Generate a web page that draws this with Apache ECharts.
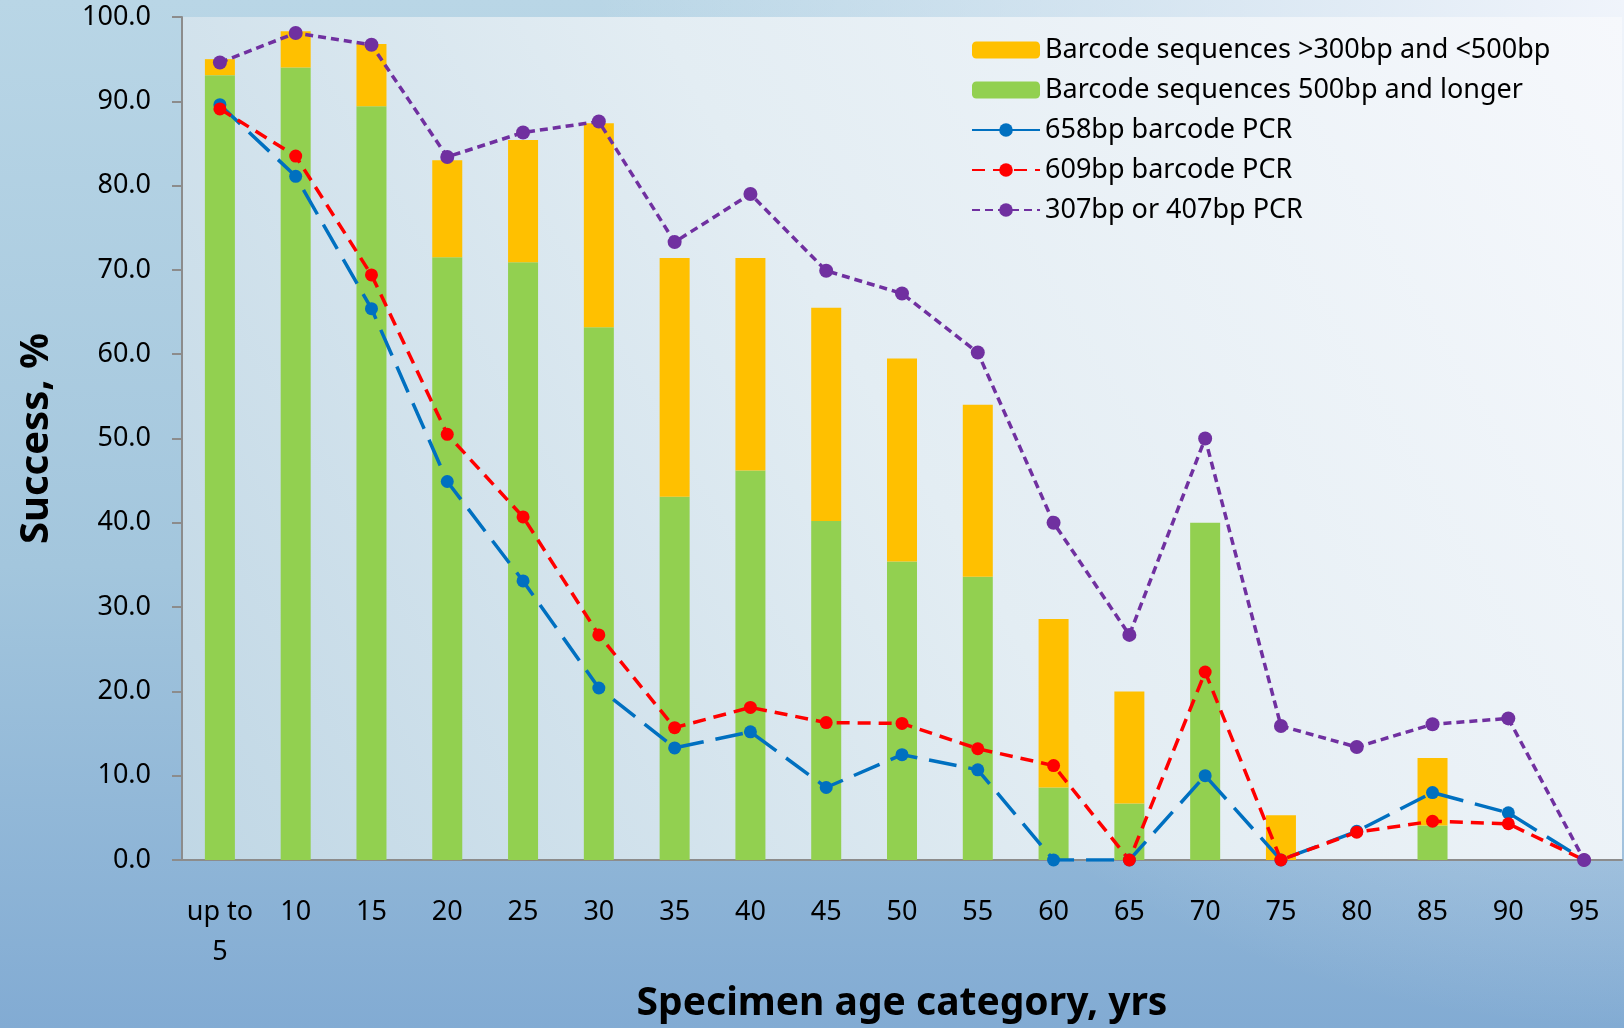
<!DOCTYPE html>
<html>
<head>
<meta charset="utf-8">
<script src="https://cdn.jsdelivr.net/npm/echarts@6/dist/echarts.min.js"></script>
<style>
html,body{margin:0;padding:0;width:1624px;height:1028px;overflow:hidden;}
#chart{width:1624px;height:1028px;}
</style>
</head>
<body>
<div id="chart"></div>
<script>
const categories = ['up to\n5','10','15','20','25','30','35','40','45','50','55','60','65','70','75','80','85','90','95'];
const seq500 = [93.1, 94.0, 89.4, 71.5, 70.9, 63.2, 43.1, 46.2, 40.2, 35.4, 33.6, 8.6, 6.7, 40.0, 0, 0, 4.1, 0, 0];
const seq300 = [1.9, 4.3, 7.4, 11.5, 14.5, 24.2, 28.3, 25.2, 25.3, 24.1, 20.4, 20.0, 13.3, 0, 5.3, 0, 8.0, 0, 0];
const pcr658 = [89.6, 81.1, 65.4, 44.9, 33.1, 20.4, 13.3, 15.2, 8.6, 12.5, 10.7, 0, 0, 10.0, 0, 3.4, 8.0, 5.6, 0];
const pcr609 = [89.1, 83.5, 69.4, 50.5, 40.7, 26.7, 15.7, 18.1, 16.3, 16.2, 13.2, 11.2, 0, 22.3, 0, 3.3, 4.6, 4.3, 0];
const pcr307 = [94.6, 98.1, 96.7, 83.4, 86.3, 87.6, 73.3, 79.0, 69.9, 67.2, 60.2, 40.0, 26.7, 50.0, 15.9, 13.4, 16.1, 16.8, 0];
const seriesNames = ['Barcode sequences >300bp and <500bp','Barcode sequences 500bp and longer','658bp barcode PCR','609bp barcode PCR','307bp or 407bp PCR'];

const FONT = '"Noto Sans", "Open Sans", sans-serif';
const chart = echarts.init(document.getElementById('chart'), null, {renderer:'canvas'});
const lg = (x,y,x2,y2,stops) => new echarts.graphic.LinearGradient(x,y,x2,y2,stops.map(c=>({offset:c[0],color:c[1]})));
const rg = (x,y,r,stops) => new echarts.graphic.RadialGradient(x,y,r,stops.map(c=>({offset:c[0],color:c[1]})));

chart.setOption({
  animation:false,
  backgroundColor: lg(0,0,0,1,[[0,'#b9d6e6'],[0.55,'#a3c6dd'],[1,'#82abd3']]),
  graphic:[
    {type:'rect',z:-100,silent:true,shape:{x:0,y:0,width:1624,height:1028},
      style:{fill: rg(1,0,1.0,[[0,'rgba(240,244,251,1)'],[0.35,'rgba(232,239,248,0.75)'],[1,'rgba(232,239,248,0)']])}}
  ],
  grid:{left:182,right:2,top:17,bottom:166,show:true,borderWidth:0,
    backgroundColor: lg(1,0,0,1,[[0,'#f6f8fc'],[0.5,'#e3edf3'],[1,'#c0d7e5']])},
  legend:{
    data:seriesNames,
    orient:'vertical',left:966,top:30,
    itemWidth:68,itemHeight:17,itemGap:10,
    textStyle:{fontFamily:FONT,fontSize:27,color:'#000',lineHeight:30}
  },
  xAxis:{
    type:'category',data:categories,
    axisLine:{lineStyle:{color:'#8c8c8c',width:2}},
    axisTick:{length:10,lineStyle:{color:'#8c8c8c',width:2}},
    axisLabel:{interval:0,margin:32,fontFamily:FONT,fontSize:27,color:'#000',lineHeight:40},
    name:'Specimen age category, yrs',nameLocation:'middle',nameGap:124,
    nameTextStyle:{fontFamily:FONT,fontSize:39,fontWeight:'bold',color:'#000'}
  },
  yAxis:{
    type:'value',min:0,max:100,interval:10,
    axisLine:{show:true,lineStyle:{color:'#8c8c8c',width:2}},
    axisTick:{show:true,length:10,lineStyle:{color:'#8c8c8c',width:2}},
    splitLine:{show:false},
    axisLabel:{margin:31,fontFamily:FONT,fontSize:27,color:'#000',formatter:v=>v.toFixed(1)},
    name:'Success, %',nameLocation:'middle',nameGap:125,
    nameTextStyle:{fontFamily:FONT,fontSize:40,fontWeight:'bold',color:'#000'}
  },
  series:[
    {name:seriesNames[1],type:'bar',stack:'seq',data:seq500,barWidth:30,itemStyle:{color:'#92d050'}},
    {name:seriesNames[0],type:'bar',stack:'seq',data:seq300,barWidth:30,itemStyle:{color:'#ffc000'}},
    {name:seriesNames[2],type:'line',data:pcr658,symbol:'circle',symbolSize:13,
      lineStyle:{color:'#0070c0',width:3.5,type:[28,12]},itemStyle:{color:'#0070c0'}},
    {name:seriesNames[3],type:'line',data:pcr609,symbol:'circle',symbolSize:13,
      lineStyle:{color:'#ff0000',width:3.5,type:[13,8]},itemStyle:{color:'#ff0000'}},
    {name:seriesNames[4],type:'line',data:pcr307,symbol:'circle',symbolSize:14,
      lineStyle:{color:'#7030a0',width:3.5,type:[8,5]},itemStyle:{color:'#7030a0'}}
  ]
});
</script>
</body>
</html>
